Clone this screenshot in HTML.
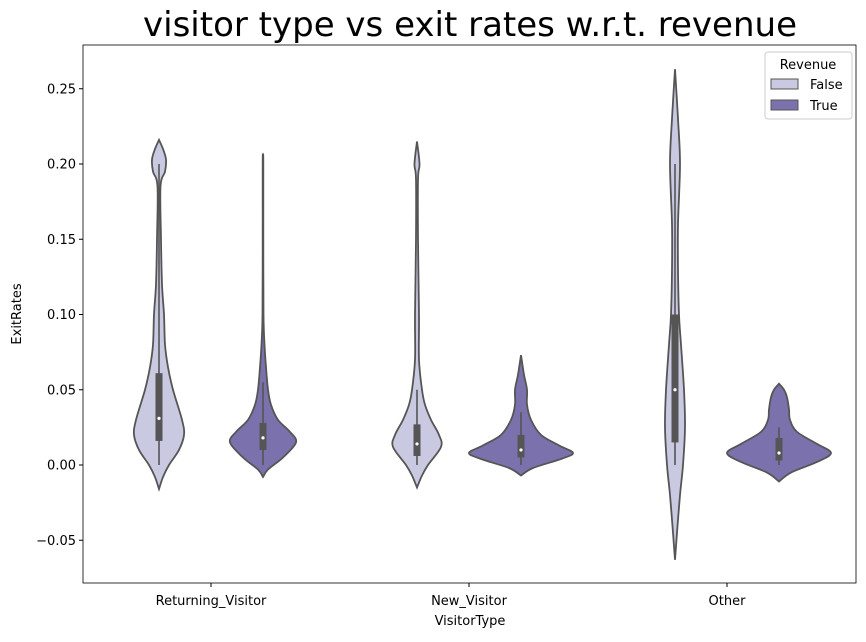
<!DOCTYPE html>
<html><head><meta charset="utf-8"><style>
body{margin:0;background:#fff;font-family:"Liberation Sans","DejaVu Sans",sans-serif}
svg text{font-family:"DejaVu Sans","Liberation Sans",sans-serif}
</style></head><body>
<svg id="chart" width="866" height="637">
<text x="470" y="36" font-size="34" text-anchor="middle" fill="#000">visitor type vs exit rates w.r.t. revenue</text>
<g id="yaxis"></g>
<g id="violins"></g>
<rect x="83" y="45" width="773" height="538" fill="none" stroke="#000" stroke-width="0.8"/>
<text x="470" y="625" font-size="13" text-anchor="middle">VisitorType</text>
<text transform="translate(21,314) rotate(-90)" font-size="13" text-anchor="middle">ExitRates</text>
<g>
<rect x="765" y="52" width="87" height="67" rx="3" fill="#fff" stroke="#ccc"/>
<text x="808" y="69" font-size="13" text-anchor="middle">Revenue</text>
<rect x="771" y="79" width="27" height="10" fill="#c9c9e2" stroke="#555"/>
<text x="810" y="89" font-size="13">False</text>
<rect x="771" y="100" width="27" height="10" fill="#7b72ad" stroke="#555"/>
<text x="810" y="110" font-size="13">True</text>
</g>
</svg>
<script>
const categories=["Returning_Visitor","New_Visitor","Other"];
const hues=["False","True"];
const yTicks=[-0.05,0,0.05,0.10,0.15,0.20,0.25];
const yTickLabels=["\u22120.05","0.00","0.05","0.10","0.15","0.20","0.25"];
// density profiles: [value, relative half-width]
const profRVF=[[-0.016,0],[-0.008,4],[0,10],[0.01,20],[0.02,25],[0.03,23],[0.05,14],[0.065,9],[0.08,6],[0.1,5],[0.12,3],[0.15,2],[0.185,1.5],[0.195,6],[0.203,7],[0.21,4],[0.216,0]];
const profRVT=[[-0.008,0],[-0.003,5],[0.005,20],[0.015,33],[0.022,27],[0.03,15],[0.04,8],[0.05,5],[0.065,3],[0.08,1.5],[0.1,0.5],[0.15,0.3],[0.2,0.3],[0.207,0]];
const profNVF=[[-0.015,0],[-0.007,5],[0,11],[0.012,24],[0.02,22],[0.03,14],[0.04,8],[0.05,5],[0.07,2],[0.1,2],[0.15,1],[0.19,1],[0.2,2.5],[0.215,0]];
const profNVT=[[-0.007,0],[-0.002,12],[0.004,40],[0.008,52],[0.013,38],[0.02,20],[0.03,10],[0.04,6],[0.05,6],[0.06,3],[0.073,0]];
const profOF=[[-0.063,0],[-0.045,2],[-0.02,5],[0,8],[0.025,10],[0.05,9],[0.08,6],[0.1,4],[0.13,3],[0.16,3],[0.2,5],[0.23,3],[0.263,0]];
const profOT=[[-0.011,0],[-0.005,12],[0.002,38],[0.008,52],[0.014,38],[0.022,18],[0.03,11],[0.037,10],[0.045,8],[0.05,5],[0.054,0]];
const profiles=[[profRVF,profRVT],[profNVF,profNVT],[profOF,profOT]];
// box stats: [whiskerLow, q1, median, q3, whiskerHigh]
const statsFalse=[[0,0.016,0.031,0.061,0.2],[0,0.006,0.014,0.027,0.05],[0,0.015,0.05,0.1,0.2]];
const statsTrue=[[0,0.010,0.018,0.028,0.055],[0,0.005,0.010,0.020,0.035],[0,0.003,0.008,0.018,0.025]];
const colors=["#c9c9e2","#7b72ad"];

const NS="http://www.w3.org/2000/svg";
const y=v=>465-v*1505;
const xCat=i=>211+i*258;
const xHue=(i,h)=>xCat(i)+(h===0?-52:52);
function mk(t,a,p){const e=document.createElementNS(NS,t);for(const k in a)e.setAttribute(k,a[k]);p.appendChild(e);return e;}
const ya=document.getElementById('yaxis');
yTicks.forEach((t,i)=>{
 const l=mk('line',{x1:79,x2:83,y1:y(t),y2:y(t),stroke:'#000'},ya);
 
 
 const tx=mk('text',{x:76,y:y(t)+4.5,'font-size':13,'text-anchor':'end'},ya);
 tx.textContent=yTickLabels[i];
 
 
});
categories.forEach((c,i)=>{
 const l=mk('line',{x1:xCat(i),x2:xCat(i),y1:583,y2:587,stroke:'#000'},ya);
 
 
 const tx=mk('text',{x:xCat(i),y:605,'font-size':13,'text-anchor':'middle'},ya);
 tx.textContent=c;
 
 
});
function smooth(pts){
 let d='M'+pts[0][0]+','+pts[0][1];
 for(let i=0;i<pts.length-1;i++){
  const p0=pts[Math.max(0,i-1)],p1=pts[i],p2=pts[i+1],p3=pts[Math.min(pts.length-1,i+2)];
  const c1=[p1[0]+(p2[0]-p0[0])/6,p1[1]+(p2[1]-p0[1])/6];
  const c2=[p2[0]-(p3[0]-p1[0])/6,p2[1]-(p3[1]-p1[1])/6];
  d+=` C${c1[0]},${c1[1]} ${c2[0]},${c2[1]} ${p2[0]},${p2[1]}`;
 }
 return d;
}
const vg=document.getElementById('violins');
categories.forEach((c,i)=>{
 hues.forEach((h,hi)=>{
  const cx=xHue(i,hi), prof=profiles[i][hi];
  const right=prof.map(p=>[cx+p[1],y(p[0])]);
  const left=prof.slice().reverse().map(p=>[cx-p[1],y(p[0])]);
  const d=smooth(right)+' L'+smooth(left).slice(1)+' Z';
  const path=mk('path',{d:d,fill:colors[hi],stroke:'#555','stroke-width':1.8},vg);
  
  
  const s=(hi===0?statsFalse:statsTrue)[i];
  const w=mk('line',{x1:cx,x2:cx,y1:y(s[0]),y2:y(s[4]),stroke:'#555','stroke-width':1.6},vg);
  
  
  const b=mk('rect',{x:cx-3.5,y:y(s[3]),width:7,height:y(s[1])-y(s[3]),fill:'#555'},vg);
  
  
  const m=mk('circle',{cx:cx,cy:y(s[2]),r:1.6,fill:'#fff'},vg);
  
  
 });
});
</script>
</body></html>
